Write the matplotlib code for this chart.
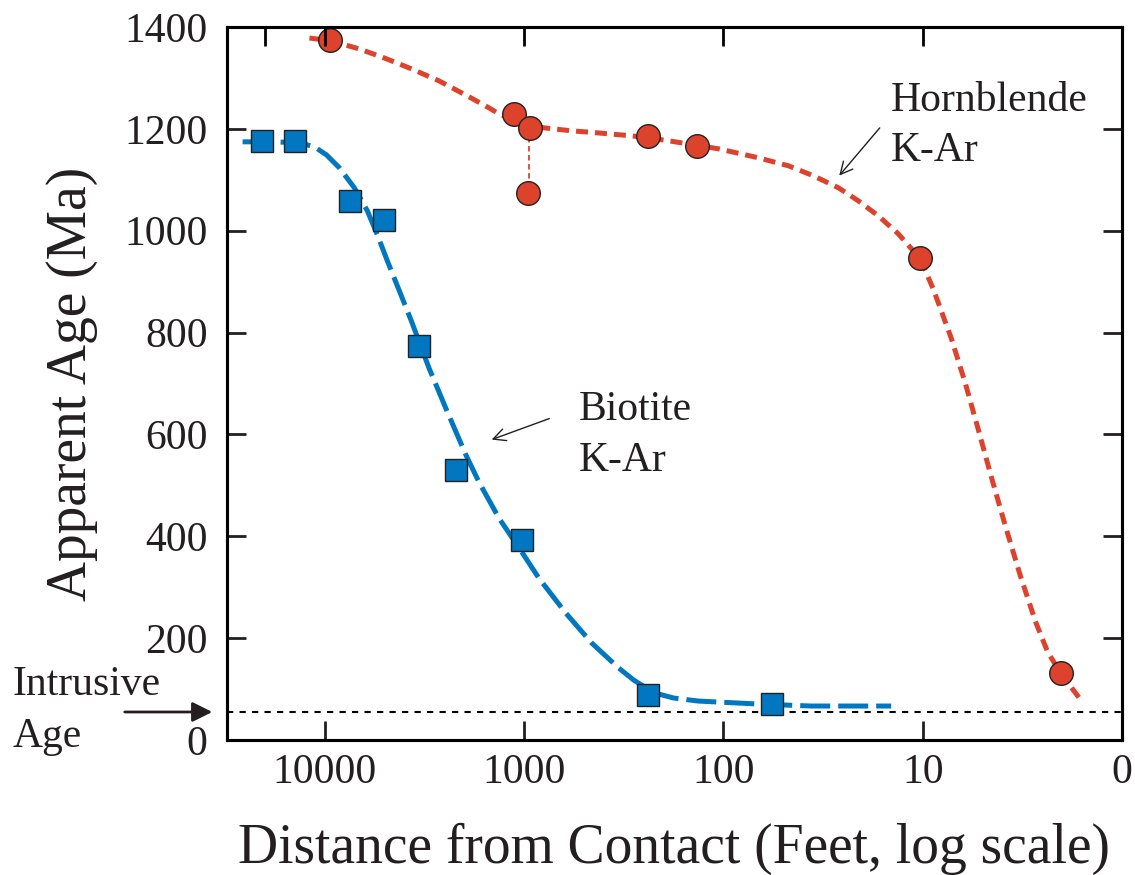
import matplotlib
matplotlib.use("Agg")
from matplotlib import pyplot as plt
from matplotlib import transforms

plt.rcParams["font.family"] = ["Liberation Serif", "DejaVu Serif"]

# Biotite K-Ar ages (distance in feet, age in Ma)
biotite_dist = [20800, 14060, 7450, 5040, 3370, 2200, 1026, 238, 56.8]
biotite_age = [1176, 1176, 1059, 1022, 773, 531, 392, 88, 71]

# Hornblende K-Ar ages
hbl_dist = [9390, 1125, 935, 958, 240, 136, 10.3, 2.03]
hbl_age = [1375, 1229, 1202, 1075, 1186, 1167, 947, 131]

# hand-drawn trend curves through each data set
biotite_curve_dist = [25890, 17900, 13420, 11290, 9829, 8461, 7117, 6127,
                      5459, 4865, 4236, 3689, 2997, 2435, 1956, 1684, 1337,
                      1026, 843.2, 617.6, 457.6, 335.2, 282.0, 243.7, 211.3,
                      177.8, 133.9, 106.3, 66.6, 36.3, 14.4]
biotite_curve_age = [1174.5, 1174.5, 1172.6, 1164.7, 1149.0, 1123.5, 1084.3,
                     1039.2, 992.2, 941.2, 882.4, 823.5, 729.4, 645.1, 558.8,
                     505.9, 435.3, 368.6, 317.6, 249.0, 190.2, 141.2, 117.6,
                     102.0, 90.2, 82.4, 76.5, 74.5, 70.6, 66.7, 66.7]

hbl_curve_dist = [11960, 9279, 6716, 5035, 3775, 2671, 1890, 1501, 1337, 1125,
                  935.4, 796.0, 576.4, 457.6, 288.5, 195.0, 105.8, 66.7, 47.2,
                  35.4, 26.5, 21.06, 16.73, 13.28, 11.17, 10.30, 8.87, 7.21,
                  6.13, 5.28, 4.55, 3.87, 3.22, 2.71, 2.36, 2.03, 1.61]
hbl_curve_age = [1378.4, 1372.6, 1356.9, 1339.2, 1319.6, 1294.1, 1262.8,
                 1241.2, 1229.4, 1217.7, 1207.9, 1202.0, 1196.1, 1193.1,
                 1186.3, 1177.5, 1160.8, 1143.1, 1127.5, 1107.9, 1084.3,
                 1058.8, 1029.4, 994.1, 960.8, 945.1, 886.3, 790.2, 702.0,
                 611.8, 519.6, 423.5, 319.6, 231.4, 172.6, 131.4, 78.4]

# the two ages measured at the same site
split_dist = 948
split_ages = [1202, 1075]

intrusive_age = 55

x_ticks = [10000, 1000, 100, 10, 1]
x_tick_labels = ["10000", "1000", "100", "10", "0"]
top_ticks = [20000, 10000, 1000, 100, 10]
y_ticks = [0, 200, 400, 600, 800, 1000, 1200, 1400]

blue = "#0077c0"
red = "#dd432c"
ink = "#231f20"

fig = plt.figure(figsize=(11.35, 8.75), dpi=100)
ax = fig.add_axes([227 / 1135, 135 / 875, 895 / 1135, 713 / 875])

ax.set_xscale("log")
ax.set_xlim(31000, 1)
ax.set_ylim(0, 1400)

# trend curves
ax.plot(biotite_curve_dist, biotite_curve_age, color=blue, lw=3.6,
        dashes=(6, 1.6), solid_capstyle="butt", zorder=2)
ax.plot(hbl_curve_dist, hbl_curve_age, color=red, lw=3.6,
        dashes=(2.4, 1.4), zorder=2)
ax.plot([split_dist, split_dist], split_ages, color=red, lw=1.3,
        dashes=(3, 2), zorder=2)

# intrusive age reference line
ax.axhline(intrusive_age, color="black", lw=1.5, dashes=(3, 3), zorder=1)

# data points
ax.plot(biotite_dist, biotite_age, "s", ms=16.5, mfc=blue, mec="#222222",
        mew=1.0, ls="none", zorder=3)
ax.plot(hbl_dist, hbl_age, "o", ms=17, mfc=red, mec="#222222",
        mew=1.0, ls="none", zorder=3)

# axes styling
for sp in ax.spines.values():
    sp.set_linewidth(2.2)
ax.set_xticks(x_ticks)
ax.set_xticklabels(x_tick_labels)
ax.xaxis.set_minor_locator(matplotlib.ticker.NullLocator())
ax.set_yticks(y_ticks)
ax.tick_params(axis="both", direction="in", length=14, width=2,
               labelsize=30, colors=ink)
ax.tick_params(axis="x", pad=10)
ax.tick_params(axis="y", pad=14, right=True)

top = ax.twiny()
top.set_xscale("log")
top.set_xlim(ax.get_xlim())
top.set_xticks(top_ticks)
top.xaxis.set_minor_locator(matplotlib.ticker.NullLocator())
top.tick_params(axis="x", direction="in", length=14, width=2,
                labeltop=False)
for sp in top.spines.values():
    sp.set_linewidth(2.2)

ax.set_xlabel("Distance from Contact (Feet, log scale)", fontsize=40,
              color=ink, labelpad=22)
ax.set_ylabel("Apparent Age (Ma)", fontsize=40, color=ink, labelpad=19)

# labels for the curves
ax.text(14.4, 1235, "Hornblende", fontsize=30, color=ink,
        va="baseline", ha="left")
ax.text(14.4, 1137, "K-Ar", fontsize=30, color=ink,
        va="baseline", ha="left")
ax.annotate("", xy=(26.8, 1104), xytext=(16.1, 1206),
            arrowprops=dict(arrowstyle="->", lw=1.0, color=ink,
                            mutation_scale=22))
ax.text(532, 629, "Biotite", fontsize=30, color=ink,
        va="baseline", ha="left")
ax.text(532, 529, "K-Ar", fontsize=30, color=ink,
        va="baseline", ha="left")
ax.annotate("", xy=(1500, 588), xytext=(726, 633),
            arrowprops=dict(arrowstyle="->", lw=1.0, color=ink,
                            mutation_scale=22))

# intrusive age marker left of the axis
tr = transforms.blended_transform_factory(fig.transFigure, ax.transData)
ax.annotate("", xy=(215 / 1135, intrusive_age), xycoords=tr,
            xytext=(122 / 1135, intrusive_age), textcoords=tr,
            arrowprops=dict(arrowstyle="-|>", lw=2.0, color=ink,
                            mutation_scale=30), annotation_clip=False)
fig.text(13 / 1135, 1 - 695 / 875, "Intrusive", fontsize=30,
         color=ink, va="baseline", ha="left")
fig.text(13 / 1135, 1 - 747 / 875, "Age", fontsize=30,
         color=ink, va="baseline", ha="left")

fig.savefig("out.png", dpi=100)
